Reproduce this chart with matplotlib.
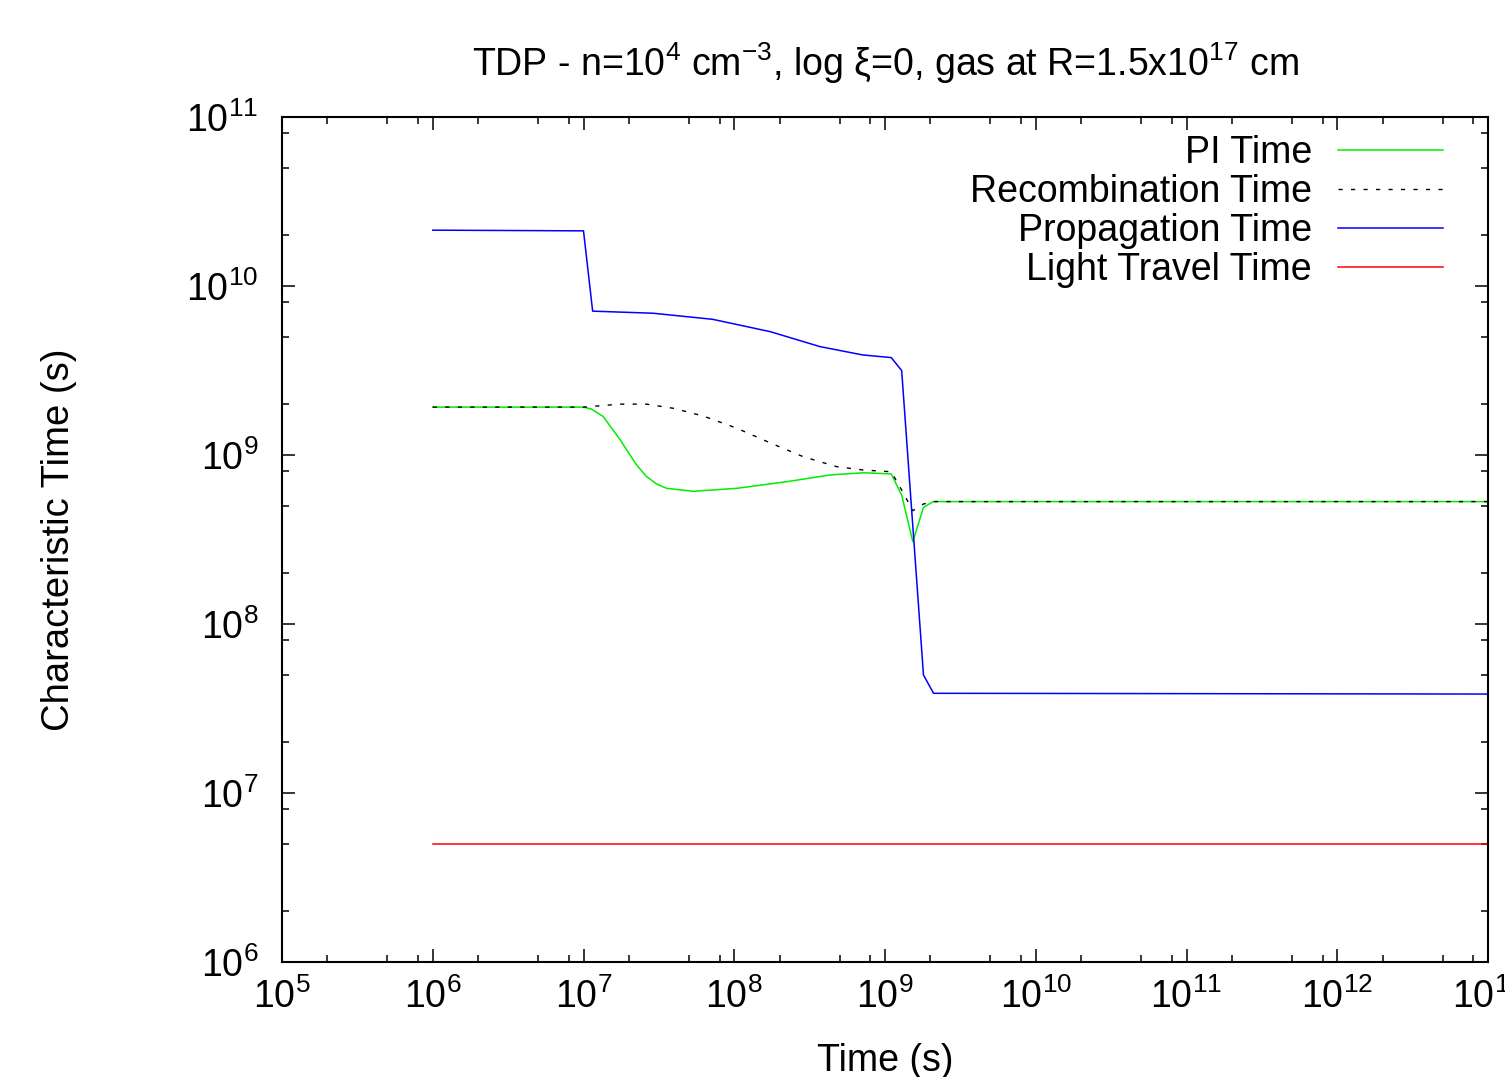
import matplotlib
matplotlib.use('Agg')
import matplotlib.pyplot as plt
from matplotlib.ticker import LogLocator, NullFormatter, FuncFormatter
import numpy as np

plt.rcParams['font.family'] = ['Liberation Sans', 'DejaVu Sans']
plt.rcParams['mathtext.fontset'] = 'custom'
plt.rcParams['mathtext.rm'] = 'Liberation Sans'
plt.rcParams['mathtext.it'] = 'Liberation Sans:italic'
plt.rcParams['mathtext.bf'] = 'Liberation Sans:bold'

# photo-ionisation time
t_pi = [1e6, 1e7, 1.13e7, 1.35e7, 1.75e7, 2.25e7, 2.62e7, 3.06e7, 3.56e7, 5.36e7,
        1.04e8, 2.23e8, 4.32e8, 7.18e8, 1.1e9, 1.29e9, 1.53e9, 1.8e9, 2.09e9, 1e13]
pi_time = [1.92e9, 1.92e9, 1.87e9, 1.69e9, 1.23e9, 8.73e8, 7.45e8, 6.73e8, 6.35e8, 6.1e8,
           6.35e8, 6.95e8, 7.62e8, 7.85e8, 7.73e8, 5.79e8, 3.07e8, 4.9e8, 5.3e8, 5.3e8]

# recombination time
t_rec = [1e6, 1e7, 1.75e7, 2.62e7, 3.94e7, 6.24e7, 1.04e8, 1.73e8, 2.87e8, 4.78e8,
         7.18e8, 1.1e9, 1.29e9, 1.53e9, 1.8e9, 2.09e9, 1e13]
rec_time = [1.92e9, 1.92e9, 2.0e9, 2.0e9, 1.89e9, 1.70e9, 1.44e9, 1.18e9, 9.77e8, 8.53e8,
            8.15e8, 7.96e8, 6.21e8, 4.68e8, 5.13e8, 5.3e8, 5.3e8]

# propagation time
t_prop = [1e6, 1e7, 1.15e7, 2.89e7, 7.2e7, 1.73e8, 3.7e8, 7.1e8, 1.1e9, 1.29e9,
          1.8e9, 2.1e9, 1e13]
prop_time = [2.14e10, 2.12e10, 7.1e9, 6.9e9, 6.35e9, 5.37e9, 4.38e9, 3.91e9, 3.77e9, 3.16e9,
             4.99e7, 3.89e7, 3.85e7]

# light travel time
t_light = [1e6, 1e13]
light_time = [5e6, 5e6]

fs = 27

fig = plt.figure(figsize=(15.05, 10.77), dpi=100)
ax = fig.add_axes([282/1505, 1 - 962/1077, (1488-282)/1505, (962-117)/1077])

ax.plot(t_pi, pi_time, color='#00ee00', lw=1.1, label='PI Time')
ax.plot(t_rec, rec_time, color='black', lw=1.0, dashes=(3, 6), label='Recombination Time')
ax.plot(t_prop, prop_time, color='#0000ff', lw=1.1, label='Propagation Time')
ax.plot(t_light, light_time, color='#ff0000', lw=1.1, label='Light Travel Time')

ax.set_xscale('log')
ax.set_yscale('log')
ax.set_xlim(1e5, 1e13)
ax.set_ylim(1e6, 1e11)

for a in (ax.xaxis, ax.yaxis):
    a.set_major_locator(LogLocator(base=10, numticks=20))
    a.set_minor_locator(LogLocator(base=10, subs=[2, 5, 8], numticks=20))
    a.set_minor_formatter(NullFormatter())
    a.set_major_formatter(FuncFormatter(lambda v, p: r'$\mathregular{10^{%d}}$' % round(np.log10(v))))

ax.tick_params(which='both', direction='in', top=True, right=True, width=1.1, labelsize=fs)
ax.tick_params(which='major', length=9.5)
ax.tick_params(which='minor', length=5)
ax.tick_params(axis='x', pad=12)
ax.tick_params(axis='y', pad=17)
for s in ax.spines.values():
    s.set_linewidth(1.5)

ax.set_xlabel('Time (s)', fontsize=fs)
ax.set_ylabel('Characteristic Time (s)', fontsize=27.5)
ax.xaxis.set_label_coords(0.5, -0.096)
ax.yaxis.set_label_coords(-0.170, 0.5)

fig.text(885/1505, 1 - 76/1077,
         r'TDP - n=$\mathregular{10^{4}}$ cm$\mathregular{^{-3}}$, log ξ=0, gas at R=1.5x$\mathregular{10^{17}}$ cm',
         ha='center', va='baseline', fontsize=fs)

ax.legend(loc='upper right', bbox_to_anchor=(0.9627, 0.979), markerfirst=False, frameon=False,
          fontsize=fs, handlelength=2.8, handletextpad=0.7, labelspacing=0.08,
          borderpad=0, borderaxespad=0)

fig.savefig('out.png', dpi=100)
